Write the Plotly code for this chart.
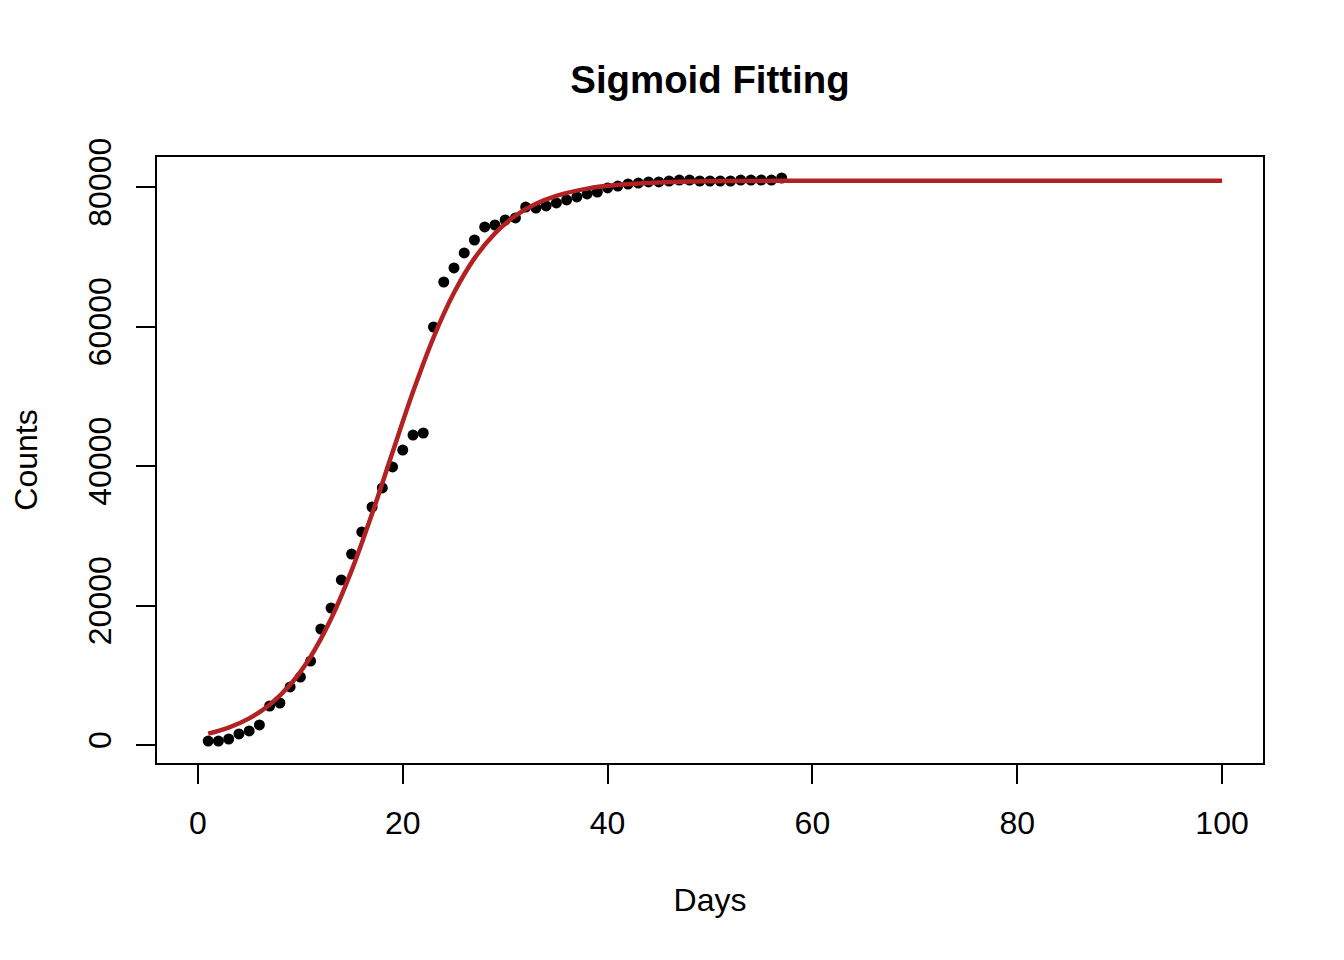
import plotly.graph_objects as go

days = list(range(1, 58))
counts = [570, 570, 860, 1580, 2010, 2870, 5590, 6020, 8320, 9750,
          12040, 16630, 19640, 23660, 27380, 30540, 34120, 36850, 39860, 42290,
          44440, 44730, 59930, 66380, 68390, 70540, 72400, 74270, 74550, 75270,
          75560, 77130, 76990, 77280, 77710, 78140, 78570, 79000, 79280, 79860,
          80140, 80430, 80570, 80720, 80720, 80860, 81000, 81000, 80860, 80860,
          80860, 80860, 81000, 81000, 81000, 81000, 81290]

# Fitted sigmoid curve
fit_days = [1, 3, 5, 7, 9, 11, 13, 15, 17, 19, 21, 23, 25, 27, 29, 31, 33, 35,
            38, 41, 45, 50, 55, 60, 70, 80, 90, 100]
fit_counts = [1630, 2500, 3820, 5780, 8630, 12660, 18090, 24990, 33150, 41960,
              50640, 58420, 64830, 69770, 73360, 75880, 77590, 78740,
              79770, 80310, 80660, 80820, 80870, 80890, 80900, 80900, 80900, 80900]

x_ticks = [0, 20, 40, 60, 80, 100]
y_ticks = [0, 20000, 40000, 60000, 80000]
y_tick_labels = ["0", "20000", "40000", "60000", "80000"]

FONT = "Liberation Sans, Arial, Helvetica, sans-serif"

fig = go.Figure()
fig.add_trace(go.Scatter(x=days, y=counts, mode="markers",
                         marker=dict(color="black", size=11, line=dict(width=0)),
                         name="Observed", showlegend=False))
fig.add_trace(go.Scatter(x=fit_days, y=fit_counts, mode="lines",
                         line=dict(color="#B22222", width=4.5, shape="spline"),
                         name="Fit", showlegend=False))

axis_common = dict(showgrid=False, zeroline=False, showline=True, mirror=True,
                   linecolor="black", linewidth=2, ticks="outside", ticklen=19,
                   tickwidth=2, tickcolor="black",
                   tickfont=dict(family=FONT, size=32, color="black"))

fig.update_layout(
    width=1344, height=960,
    paper_bgcolor="white", plot_bgcolor="white",
    margin=dict(l=149, r=89, t=149, b=205),
    title=dict(text="<b>Sigmoid Fitting</b>", x=(149 + 1255) / 2 / 1344, xanchor="center",
               y=1 - 72 / 960, yanchor="middle",
               font=dict(family=FONT, size=38.4, color="black")),
    xaxis=dict(range=[-4.0, 104.0], tickvals=x_ticks, ticklabelstandoff=12,
               title=dict(text="Days", font=dict(family=FONT, size=32, color="black"), standoff=48),
               **axis_common),
    yaxis=dict(range=[-2581, 84301], tickvals=y_ticks, ticktext=y_tick_labels,
               tickangle=-90, ticklabelstandoff=12,
               title=dict(text="Counts", font=dict(family=FONT, size=32, color="black"), standoff=38),
               **axis_common),
)

fig.write_html("out.html")
